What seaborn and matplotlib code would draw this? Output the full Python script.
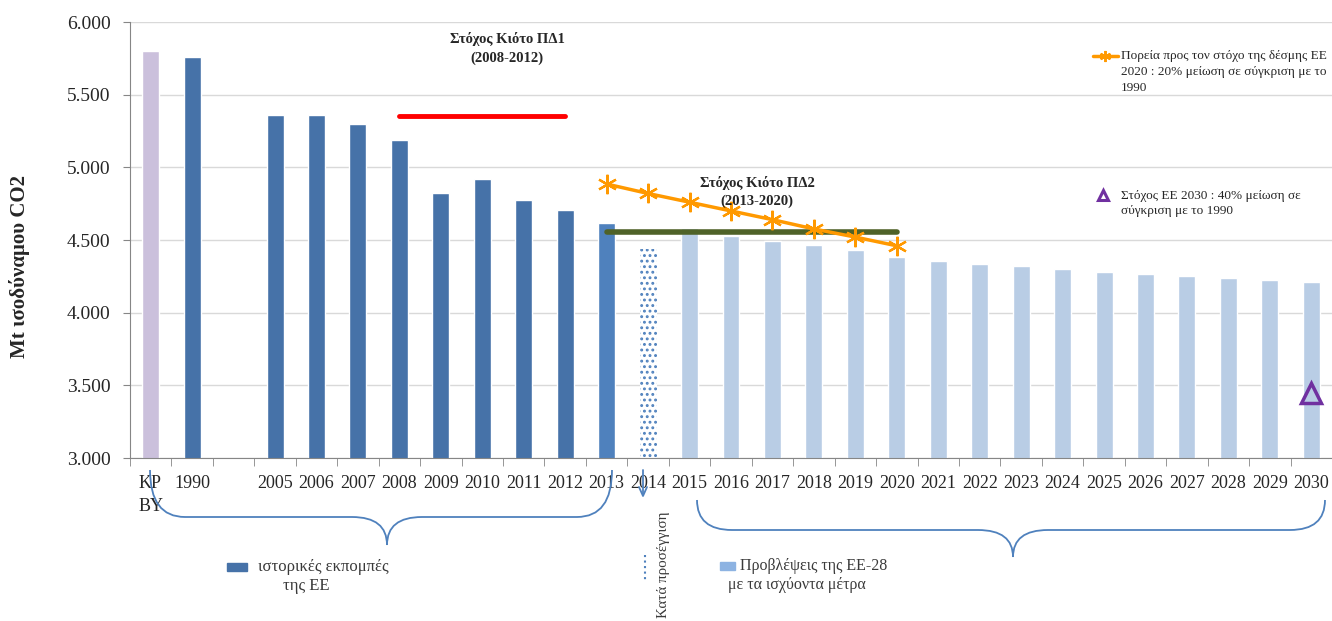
import numpy as np
import pandas as pd
import seaborn as sns
import matplotlib.pyplot as plt
from matplotlib.path import Path
from matplotlib.patches import PathPatch
from matplotlib.lines import Line2D

# categories along the x axis (blank slot between 1990 and 2005)
years = ['KP\nBY', '1990', ''] + [str(y) for y in range(2005, 2031)]
emissions = [5.80, 5.76, np.nan,
             5.36, 5.36, 5.30, 5.19, 4.82, 4.92, 4.775, 4.705, 4.615,
             4.44,
             4.58, 4.527, 4.495, 4.466, 4.43, 4.385, 4.355, 4.335, 4.32,
             4.30, 4.28, 4.265, 4.25, 4.236, 4.227, 4.21]

# path to the EU 2020 package target
path_years = ['2013', '2014', '2015', '2016', '2017', '2018', '2019', '2020']
path_values = [4.885, 4.82, 4.76, 4.70, 4.64, 4.576, 4.52, 4.46]

# Kyoto targets
kp1_years = ['2008', '2012']
kp1_value = 5.35
kp2_years = ['2013', '2020']
kp2_value = 4.553

target_2030_year = '2030'
target_2030_value = 3.45

ytick_values = [3.0, 3.5, 4.0, 4.5, 5.0, 5.5, 6.0]
ytick_labels = ['3.000', '3.500', '4.000', '4.500', '5.000', '5.500', '6.000']

c_kp = '#CBC0DC'
c_hist = '#4672A8'
c_2013 = '#4F81BD'
c_proj = '#B9CDE5'
c_orange = '#FF9900'
c_text = '#3A3A3A'

colors = {}
for y in years:
    if y == 'KP\nBY':
        colors[y] = c_kp
    elif y in ('', '1990') or (y.isdigit() and int(y) <= 2012):
        colors[y] = c_hist
    elif y in ('2013', '2014'):
        colors[y] = c_2013
    else:
        colors[y] = c_proj

df = pd.DataFrame({'year': years, 'value': emissions})

sns.set_style('white')
plt.rcParams['font.family'] = ['Liberation Serif', 'DejaVu Serif']
plt.rcParams['hatch.linewidth'] = 1.3

W, H = 1332, 621
fig = plt.figure(figsize=(W / 100, H / 100), dpi=100)
ax = fig.add_axes([130 / W, 1 - 458 / H, 1202 / W, 436 / H])

sns.barplot(data=df, x='year', y='value', hue='year', order=years, hue_order=years,
            palette=colors, width=0.41, legend=False, saturation=1, ax=ax)

pos = {y: i for i, y in enumerate(years)}

# 2014 bar: dotted pattern
for p in ax.patches:
    cx = p.get_x() + p.get_width() / 2
    if abs(cx - pos['2014']) < 0.1:
        p.set_facecolor('white')
        p.set_edgecolor(c_2013)
        p.set_linewidth(0)
        p.set_hatch('...')

ax.plot([pos[y] for y in kp1_years], [kp1_value] * 2, color='#FF0000', lw=3.5,
        solid_capstyle='round', zorder=5)
ax.plot([pos[y] for y in kp2_years], [kp2_value] * 2, color='#4F6228', lw=4,
        solid_capstyle='round', zorder=5)
ax.plot([pos[y] for y in path_years], path_values, color=c_orange, lw=2.5,
        marker=(6, 2, 0), ms=14, mew=1.6, zorder=6)
ax.plot([pos[target_2030_year]], [target_2030_value], marker='^', ms=15, mfc='none',
        mec='#7030A0', mew=2.5, ls='none', zorder=6)

ax.set_ylim(3, 6)
ax.set_xlim(-0.5, len(years) - 0.5)
ax.set_yticks(ytick_values)
ax.set_yticklabels(ytick_labels, fontsize=14)
ax.yaxis.grid(True, color='#D9D9D9', lw=1)
ax.set_axisbelow(True)
ax.set_xlabel('')
ax.set_ylabel('Mt ισοδύναμου CO2', fontsize=15, fontweight='bold')
ax.yaxis.set_label_coords(-0.083, 0.44)
for s in ['top', 'right']:
    ax.spines[s].set_visible(False)
for s in ['left', 'bottom']:
    ax.spines[s].set_color('#868686')
ax.tick_params(axis='y', left=True, length=5, color='#868686', pad=9)
ax.set_xticks(range(len(years)))
ax.set_xticklabels(years, fontsize=13)
ax.tick_params(axis='x', bottom=False, pad=9)
ax.set_xticks(np.arange(-0.5, len(years) - 0.4, 1), minor=True)
ax.tick_params(axis='x', which='minor', bottom=True, length=6, color='#868686')
for lbl in ax.get_xticklabels():
    if 'KP' in lbl.get_text():
        lbl.set_multialignment('left')
        lbl.set_linespacing(1.4)

# annotations
fig.text(507 / W, 1 - 48.5 / H, 'Στόχος Κιότο ΠΔ1\n(2008-2012)', ha='center', va='center',
         fontsize=10.5, fontweight='bold', linespacing=1.45)
fig.text(757 / W, 1 - 192 / H, 'Στόχος Κιότο ΠΔ2\n(2013-2020)', ha='center', va='center',
         fontsize=10.5, fontweight='bold', linespacing=1.45)

# top-right legend
fig.add_artist(Line2D([1093 / W, 1118 / W], [1 - 56 / H] * 2, color=c_orange, lw=2.5))
fig.add_artist(Line2D([1105 / W], [1 - 56 / H], color=c_orange, marker=(6, 2, 0), ms=8, mew=1.4))
fig.text(1121 / W, 1 - 72 / H, 'Πορεία προς τον στόχο της δέσμης ΕΕ\n2020 : 20% μείωση σε σύγκριση με το\n1990',
         ha='left', va='center', fontsize=9.5, linespacing=1.4)
fig.add_artist(Line2D([1103 / W], [1 - 195 / H], marker='^', ms=7, mfc='none', mec='#7030A0', mew=2.2))
fig.text(1121 / W, 1 - 203.5 / H, 'Στόχος ΕΕ 2030 : 40% μείωση σε\nσύγκριση με το 1990',
         ha='left', va='center', fontsize=9.5, linespacing=1.4)


def brace(x0, x1, xc, ye, yh, yt, r=35):
    pts = [(x0, ye), (x0, yh), (x0 + r, yh), (xc - r, yh), (xc, yh), (xc, yt),
           (xc, yh), (xc + r, yh), (x1 - r, yh), (x1, yh), (x1, ye)]
    codes = [Path.MOVETO, Path.CURVE3, Path.CURVE3, Path.LINETO, Path.CURVE3, Path.CURVE3,
             Path.CURVE3, Path.CURVE3, Path.LINETO, Path.CURVE3, Path.CURVE3]
    pts = [(x / W, 1 - y / H) for x, y in pts]
    fig.add_artist(PathPatch(Path(pts, codes), fc='none', ec=c_2013, lw=1.3,
                             transform=fig.transFigure))


brace(150, 612, 387, 470, 517, 545)
brace(697, 1325, 1013, 500, 530, 557)

# arrow for 2014
fig.add_artist(Line2D([643 / W] * 2, [1 - 470 / H, 1 - 494 / H], color=c_2013, lw=1.3))
fig.add_artist(Line2D([639 / W, 643 / W, 647 / W], [1 - 487 / H, 1 - 496 / H, 1 - 487 / H],
                      color=c_2013, lw=1.3))

# bottom legend
fig.patches.append(plt.Rectangle((227 / W, 1 - 571 / H), 20 / W, 8 / H, color=c_hist,
                                 transform=fig.transFigure, figure=fig))
fig.text(258 / W, 1 - 567 / H, 'ιστορικές εκπομπές', ha='left', va='center',
         fontsize=12, color=c_text)
fig.text(306 / W, 1 - 586 / H, 'της ΕΕ', ha='center', va='center', fontsize=12, color=c_text)

fig.add_artist(Line2D([645 / W] * 2, [1 - 555 / H, 1 - 580 / H], color=c_2013, lw=1.5, ls=':'))
fig.text(663 / W, 1 - 512 / H, 'Κατά προσέγγιση', rotation=90, ha='center', va='top',
         fontsize=10.8, color=c_text)

fig.patches.append(plt.Rectangle((720 / W, 1 - 570 / H), 15 / W, 8 / H, color='#8DB3E2',
                                 transform=fig.transFigure, figure=fig))
fig.text(740 / W, 1 - 566 / H, 'Προβλέψεις της ΕΕ-28', ha='left', va='center',
         fontsize=11.5, color=c_text)
fig.text(728 / W, 1 - 585 / H, 'με τα ισχύοντα μέτρα', ha='left', va='center',
         fontsize=11.5, color=c_text)

fig.savefig('out.png', dpi=100)
